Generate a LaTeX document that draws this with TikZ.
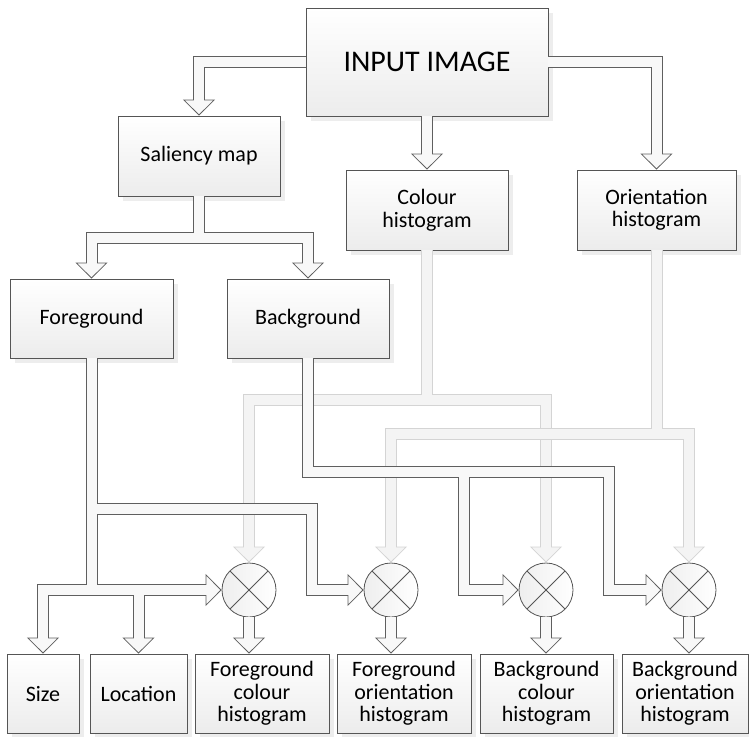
\documentclass[tikz,border=0pt]{standalone}
\usepackage{fontspec}
\setmainfont{Carlito}
\usetikzlibrary{arrows.meta, shadows, positioning}

\definecolor{boxline}{RGB}{85,85,85}
\definecolor{boxlow}{RGB}{236,236,236}
\definecolor{multlow}{RGB}{238,238,238}
\definecolor{darkedge}{RGB}{95,95,95}
\definecolor{darkfill}{RGB}{248,248,248}
\definecolor{lightedge}{RGB}{212,212,212}
\definecolor{lightfill}{RGB}{244,244,244}

\tikzstyle{block} = [rectangle, draw=boxline, line width=0.8pt, top color=white, bottom color=boxlow, align=center, inner sep=0pt, font=\fontsize{22}{22.5}\selectfont, drop shadow={shadow xshift=5pt, shadow yshift=-5pt, fill=black!7, opacity=1}]
\tikzstyle{mult} = [circle, draw=boxline, line width=0.8pt, minimum size=54pt, inner sep=0pt, left color=multlow, right color=white, path picture={\draw[boxline, line width=0.8pt] (path picture bounding box.north west) -- (path picture bounding box.south east) (path picture bounding box.north east) -- (path picture bounding box.south west);}]

% hollow block arrows: outlines first, then insides
\newcommand{\fatline}[3]{\draw[line width=12pt, draw=#2, -{Triangle[length=16pt, width=32pt, line width=0.8pt, fill=#3]}] #1;}
\newcommand{\fatfill}[2]{\draw[line width=10pt, draw=#2, shorten >=15pt] #1;}
\newcommand{\fatgroup}[3]{%
  \foreach \p in {#3} {\expandafter\fatline\expandafter{\p}{#1}{#2}}
  \foreach \p in {#3} {\expandafter\fatfill\expandafter{\p}{#2}}}

\begin{document}
\begin{tikzpicture}[x=1pt, y=-1pt]
\useasboundingbox (0,0) rectangle (749,736);

% Main Components
\node (input) [block, minimum width=242pt, minimum height=108pt, font=\fontsize{30}{32}\selectfont] at (427,62) {INPUT IMAGE};
\node (sal) [block, minimum width=162pt, minimum height=80pt] at (199,156) {Saliency map};
\node (col) [block, minimum width=162pt, minimum height=80pt] at (427,210) {Colour\\histogram};
\node (ori) [block, minimum width=159pt, minimum height=80pt] at (656.5,210) {Orientation\\histogram};
\node (fg) [block, minimum width=163pt, minimum height=79pt] at (91.5,318.5) {Foreground};
\node (bg) [block, minimum width=162pt, minimum height=79pt] at (308,318.5) {Background};

% Products
\node (m1) [mult] at (249,590) {};
\node (m2) [mult] at (391,590) {};
\node (m3) [mult] at (546,590) {};
\node (m4) [mult] at (689,590) {};

% Outputs
\node (size) [block, minimum width=72pt, minimum height=79pt] at (43,693.5) {Size};
\node (loc) [block, minimum width=97pt, minimum height=79pt] at (138.5,693.5) {Location};
\node (fgc) [block, minimum width=134pt, minimum height=79pt] at (262,693.5) {Foreground\\colour\\histogram};
\node (fgo) [block, minimum width=134pt, minimum height=79pt] at (404,693.5) {Foreground\\orientation\\histogram};
\node (bgc) [block, minimum width=133pt, minimum height=79pt] at (546.5,693.5) {Background\\colour\\histogram};
\node (bgo) [block, minimum width=126pt, minimum height=79pt] at (685,693.5) {Background\\orientation\\histogram};

% Bends
\coordinate (fgturn) at (312,509);
\coordinate (bgturn) at (609,472);
\coordinate (bgfork) at (464,472);

% Connections
\fatgroup{darkedge}{darkfill}{{(input.west) -| (sal.north)}, {(input.south) -- (col.north)}, {(input.east) -| (ori.north)}}
\fatgroup{darkedge}{darkfill}{{(sal.south) -- ++(0,42) -| (fg.north)}, {(sal.south) -- ++(0,42) -| (bg.north)}}
\fatgroup{lightedge}{lightfill}{{(col.south) -- ++(0,150) -| (m1.north)}, {(col.south) -- ++(0,150) -| (m3.north)}}
\fatgroup{lightedge}{lightfill}{{(ori.south) -- ++(0,184) -| (m2.north)}, {(ori.south) -- ++(0,184) -| (m4.north)}}
\fatgroup{darkedge}{darkfill}{{(fg.south) |- (fgturn) |- (m2.west)}, {(fg.south) |- (m1.west)}, {(fg.south) -- (fg.south |- m1.west) -| (size.north)}, {(fg.south) -- (fg.south |- m1.west) -| (loc.north)}}
\fatgroup{darkedge}{darkfill}{{(bg.south) |- (bgturn) |- (m4.west)}, {(bg.south) |- (bgfork) |- (m3.west)}}
\fatgroup{darkedge}{darkfill}{{(m1.south) -- (m1.south |- fgc.north)}, {(m2.south) -- (m2.south |- fgo.north)}, {(m3.south) -- (m3.south |- bgc.north)}, {(m4.south) -- (m4.south |- bgo.north)}}

\end{tikzpicture}
\end{document}
